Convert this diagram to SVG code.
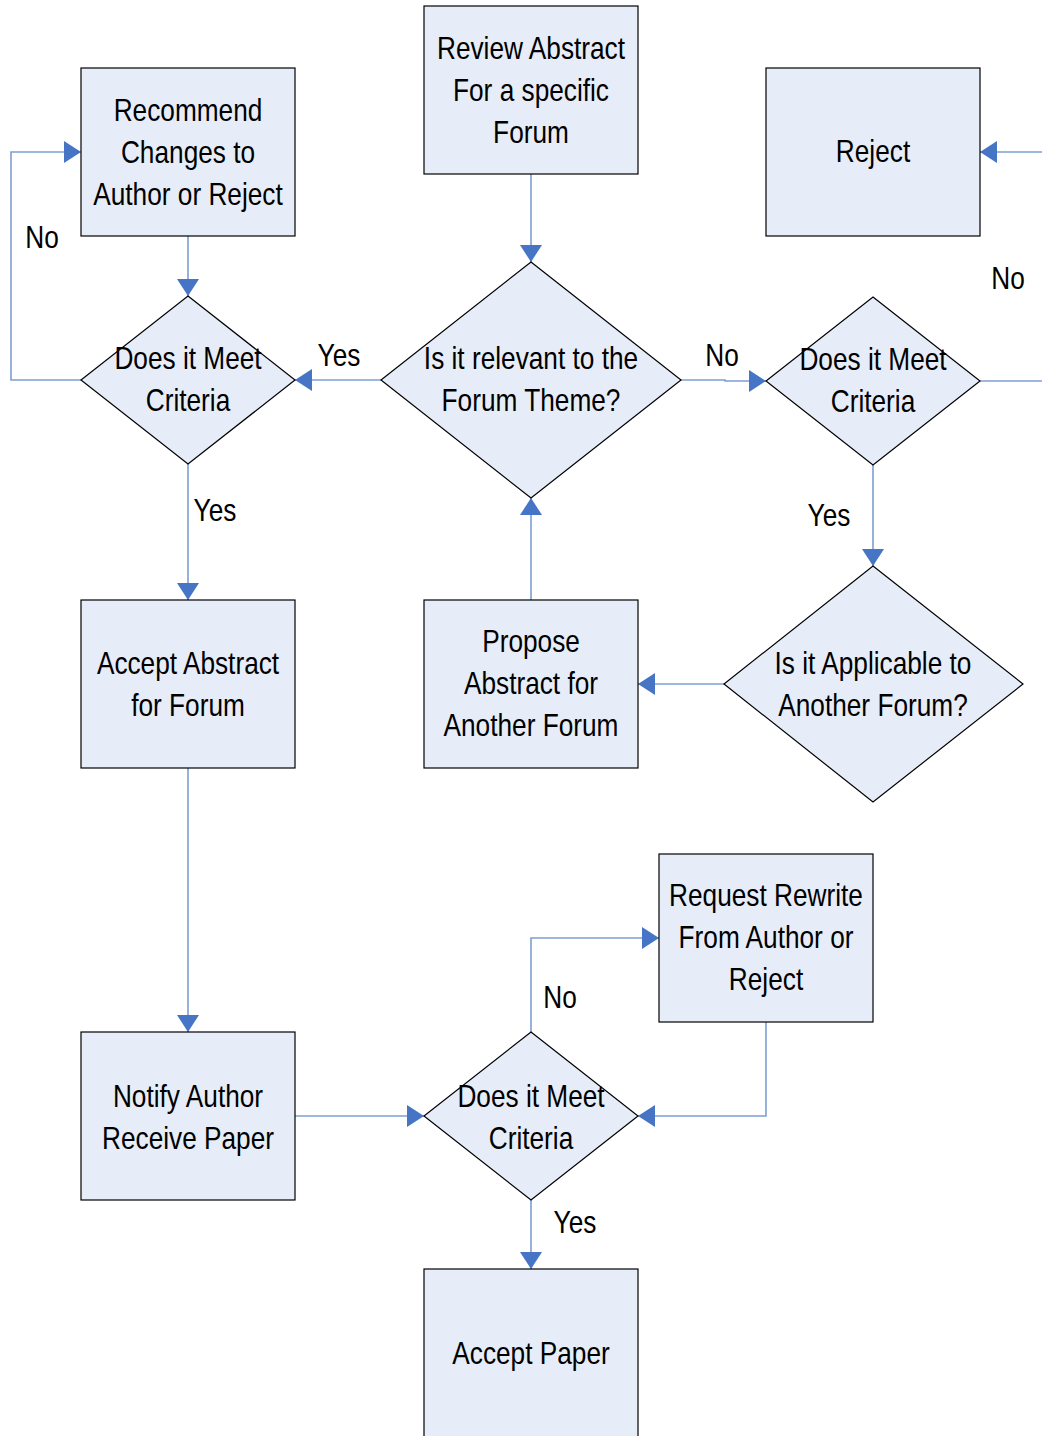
<svg xmlns="http://www.w3.org/2000/svg" width="1042" height="1436" viewBox="0 0 1042 1436">
<defs>
<style>
.n{fill:#E7EDF8;stroke:#000;stroke-width:1.2}
.c{fill:none;stroke:#7C9FD4;stroke-width:1.6}
text{font-family:"Liberation Sans",Arial,sans-serif;font-size:32px;fill:#000;text-anchor:middle}
</style>
<marker id="a" viewBox="0 0 17 22" refX="17" refY="11" markerWidth="17" markerHeight="22" markerUnits="userSpaceOnUse" orient="auto">
<path d="M0,0 L17,11 L0,22 Z" fill="#4775C5"/>
</marker>
</defs>
<rect width="1042" height="1436" fill="#fff"/>
<g id="connectors">
<path class="c" d="M531,174 V262" marker-end="url(#a)"/>
<path class="c" d="M381,380 H295" marker-end="url(#a)"/>
<path class="c" d="M81,380 H11 V152 H81" marker-end="url(#a)"/>
<path class="c" d="M188,236 V296" marker-end="url(#a)"/>
<path class="c" d="M188,464 V600" marker-end="url(#a)"/>
<path class="c" d="M681,380 H725 V381 H766" marker-end="url(#a)"/>
<path class="c" d="M980,381 H1042"/>
<path class="c" d="M1042,152 H980" marker-end="url(#a)"/>
<path class="c" d="M873,465 V566" marker-end="url(#a)"/>
<path class="c" d="M724,684 H638" marker-end="url(#a)"/>
<path class="c" d="M531,600 V498" marker-end="url(#a)"/>
<path class="c" d="M188,768 V1032" marker-end="url(#a)"/>
<path class="c" d="M295,1116 H424" marker-end="url(#a)"/>
<path class="c" d="M531,1032 V938 H659" marker-end="url(#a)"/>
<path class="c" d="M766,1022 V1116 H638" marker-end="url(#a)"/>
<path class="c" d="M531,1200 V1269" marker-end="url(#a)"/>
<g transform="translate(339,366) scale(0.82,1)"><text>Yes</text></g>
<g transform="translate(42,248) scale(0.82,1)"><text>No</text></g>
<g transform="translate(215,521) scale(0.82,1)"><text>Yes</text></g>
<g transform="translate(722,366) scale(0.82,1)"><text>No</text></g>
<g transform="translate(1008,289) scale(0.82,1)"><text>No</text></g>
<g transform="translate(829,526) scale(0.82,1)"><text>Yes</text></g>
<g transform="translate(560,1008) scale(0.82,1)"><text>No</text></g>
<g transform="translate(575,1233) scale(0.82,1)"><text>Yes</text></g>
</g>
<g id="recommend">
<rect class="n" x="81" y="68" width="214" height="168"/>
<g transform="translate(188,0) scale(0.82,1)"><text y="121">Recommend</text><text y="163">Changes to</text><text y="205">Author or Reject</text></g>
</g>
<g id="review">
<rect class="n" x="424" y="6" width="214" height="168"/>
<g transform="translate(531,0) scale(0.82,1)"><text y="59">Review Abstract</text><text y="101">For a specific</text><text y="143">Forum</text></g>
</g>
<g id="reject">
<rect class="n" x="766" y="68" width="214" height="168"/>
<g transform="translate(873,0) scale(0.82,1)"><text y="162">Reject</text></g>
</g>
<g id="meet-left">
<path class="n" d="M188,296 L295,380 L188,464 L81,380 Z"/>
<g transform="translate(188,0) scale(0.82,1)"><text y="369">Does it Meet</text><text y="411">Criteria</text></g>
</g>
<g id="relevant">
<path class="n" d="M531,262 L681,380 L531,498 L381,380 Z"/>
<g transform="translate(531,0) scale(0.82,1)"><text y="369">Is it relevant to the</text><text y="411">Forum Theme?</text></g>
</g>
<g id="meet-right">
<path class="n" d="M873,297 L980,381 L873,465 L766,381 Z"/>
<g transform="translate(873,0) scale(0.82,1)"><text y="370">Does it Meet</text><text y="412">Criteria</text></g>
</g>
<g id="accept-abstract">
<rect class="n" x="81" y="600" width="214" height="168"/>
<g transform="translate(188,0) scale(0.82,1)"><text y="674">Accept Abstract</text><text y="716">for Forum</text></g>
</g>
<g id="propose">
<rect class="n" x="424" y="600" width="214" height="168"/>
<g transform="translate(531,0) scale(0.82,1)"><text y="652">Propose</text><text y="694">Abstract for</text><text y="736">Another Forum</text></g>
</g>
<g id="applicable">
<path class="n" d="M873,566 L1023,684 L873,802 L724,684 Z"/>
<g transform="translate(873,0) scale(0.82,1)"><text y="674">Is it Applicable to</text><text y="716">Another Forum?</text></g>
</g>
<g id="request">
<rect class="n" x="659" y="854" width="214" height="168"/>
<g transform="translate(766,0) scale(0.82,1)"><text y="906">Request Rewrite</text><text y="948">From Author or</text><text y="990">Reject</text></g>
</g>
<g id="notify">
<rect class="n" x="81" y="1032" width="214" height="168"/>
<g transform="translate(188,0) scale(0.82,1)"><text y="1107">Notify Author</text><text y="1149">Receive Paper</text></g>
</g>
<g id="meet-bottom">
<path class="n" d="M531,1032 L638,1116 L531,1200 L424,1116 Z"/>
<g transform="translate(531,0) scale(0.82,1)"><text y="1107">Does it Meet</text><text y="1149">Criteria</text></g>
</g>
<g id="accept-paper">
<rect class="n" x="424" y="1269" width="214" height="180"/>
<g transform="translate(531,0) scale(0.82,1)"><text y="1364">Accept Paper</text></g>
</g>
</svg>
